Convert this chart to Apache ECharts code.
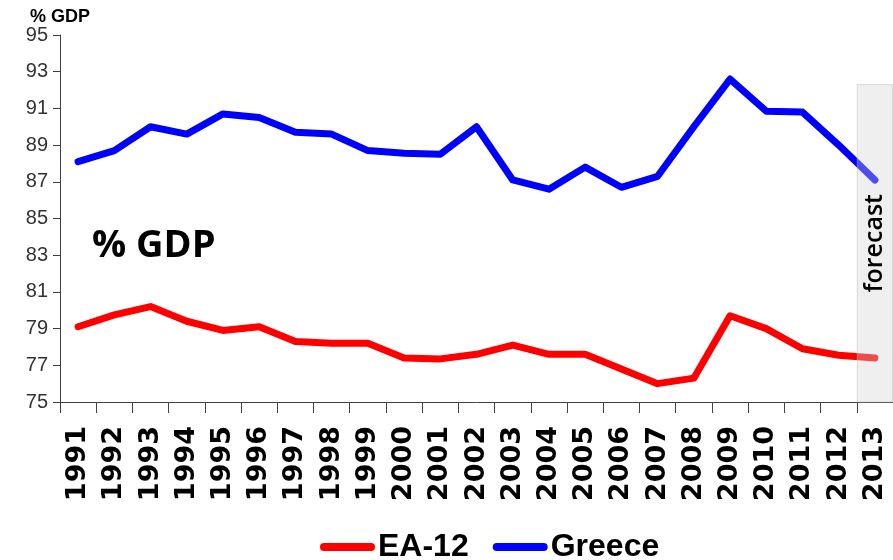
<!DOCTYPE html>
<html>
<head>
<meta charset="utf-8">
<script src="https://cdn.jsdelivr.net/npm/echarts@6/dist/echarts.min.js"></script>
<style>
html,body{margin:0;padding:0;background:#fff;}
#chart{width:893px;height:560px;}
</style>
</head>
<body>
<div id="chart"></div>
<script>
var years = ['1991','1992','1993','1994','1995','1996','1997','1998','1999','2000','2001','2002','2003','2004','2005','2006','2007','2008','2009','2010','2011','2012','2013'];
var ea12 = [79.1, 79.75, 80.2, 79.4, 78.9, 79.1, 78.3, 78.2, 78.2, 77.4, 77.35, 77.6, 78.1, 77.6, 77.6, 76.8, 76.0, 76.3, 79.7, 79.0, 77.9, 77.55, 77.4];
var greece = [88.1, 88.7, 90.0, 89.6, 90.7, 90.5, 89.7, 89.6, 88.7, 88.55, 88.5, 90.0, 87.1, 86.6, 87.8, 86.7, 87.3, 90.0, 92.6, 90.85, 90.8, 89.0, 87.1];
var forecastYear = '2013';
var forecastTop = 92.33;
var yTicks = {min: 75, max: 95, interval: 2};

var forecastData = years.map(function (y) { return y === forecastYear ? forecastTop : null; });

var chart = echarts.init(document.getElementById('chart'), null, {renderer: 'canvas'});
var capsule = 'path://M4,0 H51 A4,4 0 0 1 51,8 H4 A4,4 0 0 1 4,0 Z';
chart.setOption({
  animation: false,
  backgroundColor: '#ffffff',
  grid: {left: 60, top: 35, width: 834, height: 367, containLabel: false},
  legend: {
    data: [{name: 'EA-12', icon: capsule}, {name: 'Greece', icon: capsule}],
    left: 315, top: 526,
    itemWidth: 55, itemHeight: 8, itemGap: 24,
    textStyle: {fontFamily: 'Liberation Sans', fontWeight: 'bold', fontSize: 32, color: '#000', padding: [0, 0, 0, -2]}
  },
  xAxis: {
    type: 'category',
    data: years,
    boundaryGap: true,
    axisLine: {lineStyle: {color: '#404040', width: 1}},
    axisTick: {show: true, length: 11, lineStyle: {color: '#404040'}},
    axisLabel: {
      rotate: 90, margin: 24, interval: 0,
      fontFamily: 'DejaVu Sans', fontWeight: 'bold', fontSize: 27, color: '#000'
    }
  },
  yAxis: {
    type: 'value',
    min: yTicks.min, max: yTicks.max, interval: yTicks.interval,
    splitLine: {show: false},
    axisLine: {show: true, lineStyle: {color: '#404040', width: 1}},
    axisTick: {show: true, length: 7, lineStyle: {color: '#404040'}},
    axisLabel: {margin: 12, fontFamily: 'Liberation Sans', fontSize: 20, color: '#333'}
  },
  graphic: [
    {type: 'text', left: 30, top: 8, style: {text: '% GDP', font: 'bold 18px "Liberation Sans"', fill: '#000'}},
    {type: 'text', left: 92, top: 227, style: {text: '% GDP', font: 'bold 38px "Open Sans"', fill: '#000'}}
  ],
  series: [
    {
      name: 'EA-12', type: 'line', data: ea12, symbol: 'none', z: 2,
      itemStyle: {color: '#ff0000'},
      lineStyle: {color: '#ff0000', width: 7, cap: 'round', join: 'round'}
    },
    {
      name: 'Greece', type: 'line', data: greece, symbol: 'none', z: 3,
      itemStyle: {color: '#0000ff'},
      lineStyle: {color: '#0000ff', width: 7, cap: 'round', join: 'round'}
    },
    {
      name: 'forecast', type: 'bar', data: forecastData, barWidth: '100%', barGap: '-100%', z: 10,
      silent: true,
      itemStyle: {color: 'rgba(210,210,210,0.36)', borderColor: 'rgba(190,190,190,0.5)', borderWidth: 1},
      label: {
        show: true, position: 'inside', rotate: 90, formatter: 'forecast',
        fontFamily: 'Open Sans', fontWeight: 600, fontSize: 25, color: '#000', opacity: 1
      }
    }
  ]
});
</script>
</body>
</html>
